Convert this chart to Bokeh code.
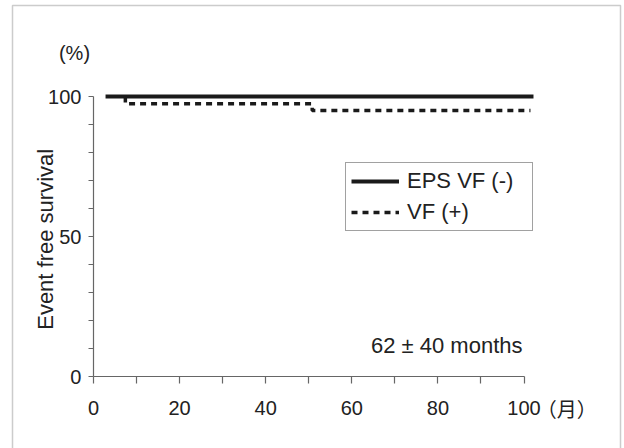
import math
from bokeh.plotting import figure
from bokeh.models import Range1d, FixedTicker, Label, Legend, LegendItem, BoxAnnotation
from bokeh.embed import file_html
from bokeh.resources import INLINE

# ---- data ----
series_names = ["EPS VF (-)", "VF (+)"]
eps_vf_neg_x = [2.8, 102.2]          # months
eps_vf_neg_y = [100, 100]            # % event free
vf_pos_x = [7.4, 7.4, 50.8, 50.8, 101.5]
vf_pos_y = [100, 97.4, 97.4, 95.0, 95.0]

x_major_ticks = [0, 20, 40, 60, 80, 100]
x_minor_ticks = [10, 30, 50, 70, 90]
y_major_ticks = [0, 50, 100]
y_minor_ticks = [10, 20, 30, 40, 60, 70, 80, 90]

x_unit_text = "（月）"
y_unit_text = "(%)"
y_title_text = "Event free survival"
note_text = "62 ± 40 months"

FONT = "Liberation Sans"
TXT = "#222222"
AX = "#666666"
INK = "#1a1a1a"

W, H = 624, 448
p = figure(width=W, height=H,
           x_range=Range1d(-21.60, 123.34), y_range=Range1d(-25.71, 134.29),
           output_backend="svg", toolbar_location=None,
           min_border_left=0, min_border_right=0,
           min_border_top=0, min_border_bottom=0)
p.outline_line_color = None
p.grid.visible = False
p.background_fill_color = "white"
p.border_fill_color = "white"

xa = p.xaxis[0]
xa.fixed_location = 0
xa.ticker = FixedTicker(ticks=x_major_ticks, minor_ticks=x_minor_ticks)
xa.bounds = (0, 100)
xa.major_tick_in = 0
xa.major_tick_out = 7
xa.minor_tick_in = 0
xa.minor_tick_out = 7
xa.major_label_standoff = 17

ya = p.yaxis[0]
ya.fixed_location = 0
ya.ticker = FixedTicker(ticks=y_major_ticks, minor_ticks=y_minor_ticks)
ya.bounds = (0, 100)
ya.major_tick_in = 0
ya.major_tick_out = 5
ya.minor_tick_in = 0
ya.minor_tick_out = 5
ya.major_label_standoff = 7

for ax in (xa, ya):
    ax.axis_line_color = AX
    ax.axis_line_width = 1.2
    ax.major_tick_line_color = AX
    ax.minor_tick_line_color = AX
    ax.major_tick_line_width = 1.2
    ax.minor_tick_line_width = 1.2
    ax.major_label_text_font = FONT
    ax.major_label_text_font_size = "20px"
    ax.major_label_text_color = TXT

r1 = p.line(eps_vf_neg_x, eps_vf_neg_y, line_width=4, line_color=INK)
r2 = p.line(vf_pos_x, vf_pos_y, line_width=3.5, line_color=INK, line_dash="6 5")

legend = Legend(items=[LegendItem(label=series_names[0], renderers=[r1]),
                       LegendItem(label=series_names[1], renderers=[r2])],
                location=(345, 217), margin=0, padding=5, spacing=5,
                glyph_height=22, glyph_width=48, label_height=22,
                label_width=120, label_standoff=8,
                border_line_color="#444444", border_line_width=1.2,
                background_fill_color="white", background_fill_alpha=1,
                label_text_font=FONT, label_text_font_size="22px",
                label_text_color=TXT)
p.add_layout(legend)

p.add_layout(Label(x=-4.41, y=115.7, text=y_unit_text, text_align="center",
                   text_baseline="middle", text_font=FONT,
                   text_font_size="20px", text_color=TXT))
p.add_layout(Label(x=-11.15, y=49, text=y_title_text, angle=math.pi / 2,
                   text_align="center", text_baseline="middle",
                   text_font=FONT, text_font_size="22px", text_color=TXT))
p.add_layout(Label(x=99.65, y=11.2, text=note_text, text_align="right",
                   text_baseline="middle", text_font=FONT,
                   text_font_size="22px", text_color=TXT))
p.add_layout(Label(x=109.9, y=-11.4, text=x_unit_text, text_align="center",
                   text_baseline="middle", text_font="Noto Sans CJK JP",
                   text_font_size="20px", text_color=TXT))

p.add_layout(BoxAnnotation(left=12, right=620, top=443, bottom=-20,
                           left_units="screen", right_units="screen",
                           top_units="screen", bottom_units="screen",
                           fill_alpha=0, line_color="#555555", line_width=1.5))

open("out.html", "w").write(file_html(p, INLINE))
